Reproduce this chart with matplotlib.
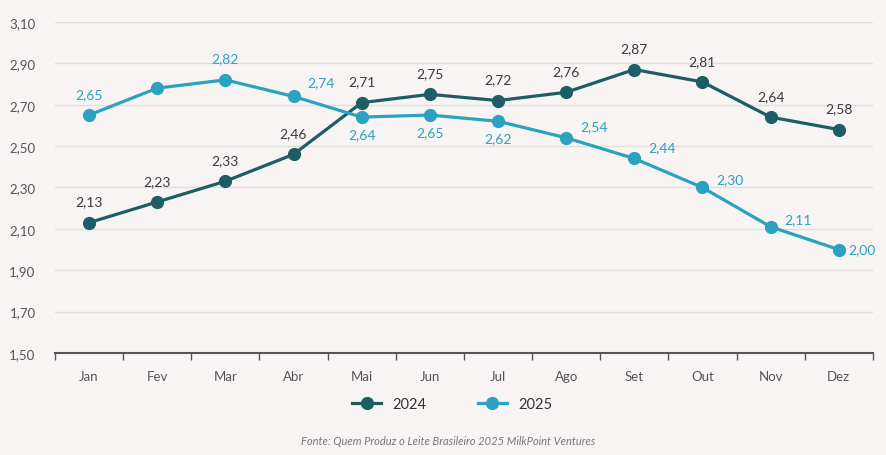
import matplotlib
matplotlib.use("Agg")
import matplotlib.pyplot as plt
import numpy as np

months = ["Jan", "Fev", "Mar", "Abr", "Mai", "Jun", "Jul", "Ago", "Set", "Out", "Nov", "Dez"]
v2024 = [2.13, 2.23, 2.33, 2.46, 2.71, 2.75, 2.72, 2.76, 2.87, 2.81, 2.64, 2.58]
v2025 = [2.65, 2.78, 2.82, 2.74, 2.64, 2.65, 2.62, 2.54, 2.44, 2.30, 2.11, 2.00]
labels2025 = ["2,65", None, "2,82", "2,74", "2,64", "2,65", "2,62", "2,54", "2,44", "2,30", "2,11", "2,00"]
yticks = [1.50, 1.70, 1.90, 2.10, 2.30, 2.50, 2.70, 2.90, 3.10]

plt.rcParams['font.family'] = ['Lato', 'DejaVu Sans']
bg = "#f8f4f4"
c24 = "#1d5e64"
c25 = "#2ba2bf"

fig = plt.figure(figsize=(8.87, 4.56), dpi=100, facecolor=bg)
ax = fig.add_axes([0.062, 0.2237, 0.922, 0.726])
ax.set_facecolor(bg)
x = np.arange(len(months))

ax.plot(x, v2024, color=c24, lw=2.3, marker='o', ms=8.5, label="2024", zorder=3)
ax.plot(x, v2025, color=c25, lw=2.3, marker='o', ms=8.5, label="2025", zorder=3)

for i, v in enumerate(v2024):
    ax.annotate(f"{v:.2f}".replace('.', ','), (i, v), xytext=(0, 11), textcoords='offset points',
                ha='center', va='bottom', fontsize=10, color="#3a3a3a")

pos = {0: (0, 11, 'center', 'bottom'), 2: (0, 11, 'center', 'bottom'), 3: (10, 6, 'left', 'bottom'),
       4: (0, -8, 'center', 'top'), 5: (0, -8, 'center', 'top'), 6: (0, -8, 'center', 'top'),
       7: (10, 4, 'left', 'bottom'), 8: (10, 4, 'left', 'bottom'), 9: (10, 2, 'left', 'bottom'),
       10: (10, 1, 'left', 'bottom'), 11: (7, 0, 'left', 'center')}
for i, v in enumerate(v2025):
    lab = labels2025[i]
    if lab is None:
        continue
    dx, dy, ha, va = pos[i]
    ax.annotate(lab, (i, v), xytext=(dx, dy), textcoords='offset points',
                ha=ha, va=va, fontsize=10, color=c25)

ax.set_xlim(-0.5, 11.5)
ax.set_ylim(1.5, 3.1)
ax.set_yticks(yticks)
ax.set_yticklabels([f"{t:.2f}".replace('.', ',') for t in yticks], fontsize=9.5, color="#555555")
ax.set_xticks(x)
ax.set_xticklabels(months, fontsize=9.5, color="#555555")
ax.set_xticks(np.arange(-0.5, 12, 1), minor=True)
ax.tick_params(axis='x', which='major', length=0, pad=12)
ax.tick_params(axis='x', which='minor', length=5, color="#555555", width=1)
ax.tick_params(axis='y', length=0, pad=14)
ax.grid(axis='y', color="#e2dede", lw=1)
for s in ['top', 'right', 'left']:
    ax.spines[s].set_visible(False)
ax.spines['bottom'].set_color("#555555")
ax.spines['bottom'].set_linewidth(1.5)
ax.set_axisbelow(True)

fig.legend(loc='center', bbox_to_anchor=(0.51, 0.112), ncol=2, frameon=False, fontsize=10.5,
           handlelength=2.0, columnspacing=3.5, labelcolor="#333333")
fig.text(0.505, 0.032, "Fonte: Quem Produz o Leite Brasileiro 2025 MilkPoint Ventures",
         ha='center', va='center', fontsize=8, style='italic', color="#777777")

fig.savefig("out.png", dpi=100, facecolor=bg)
